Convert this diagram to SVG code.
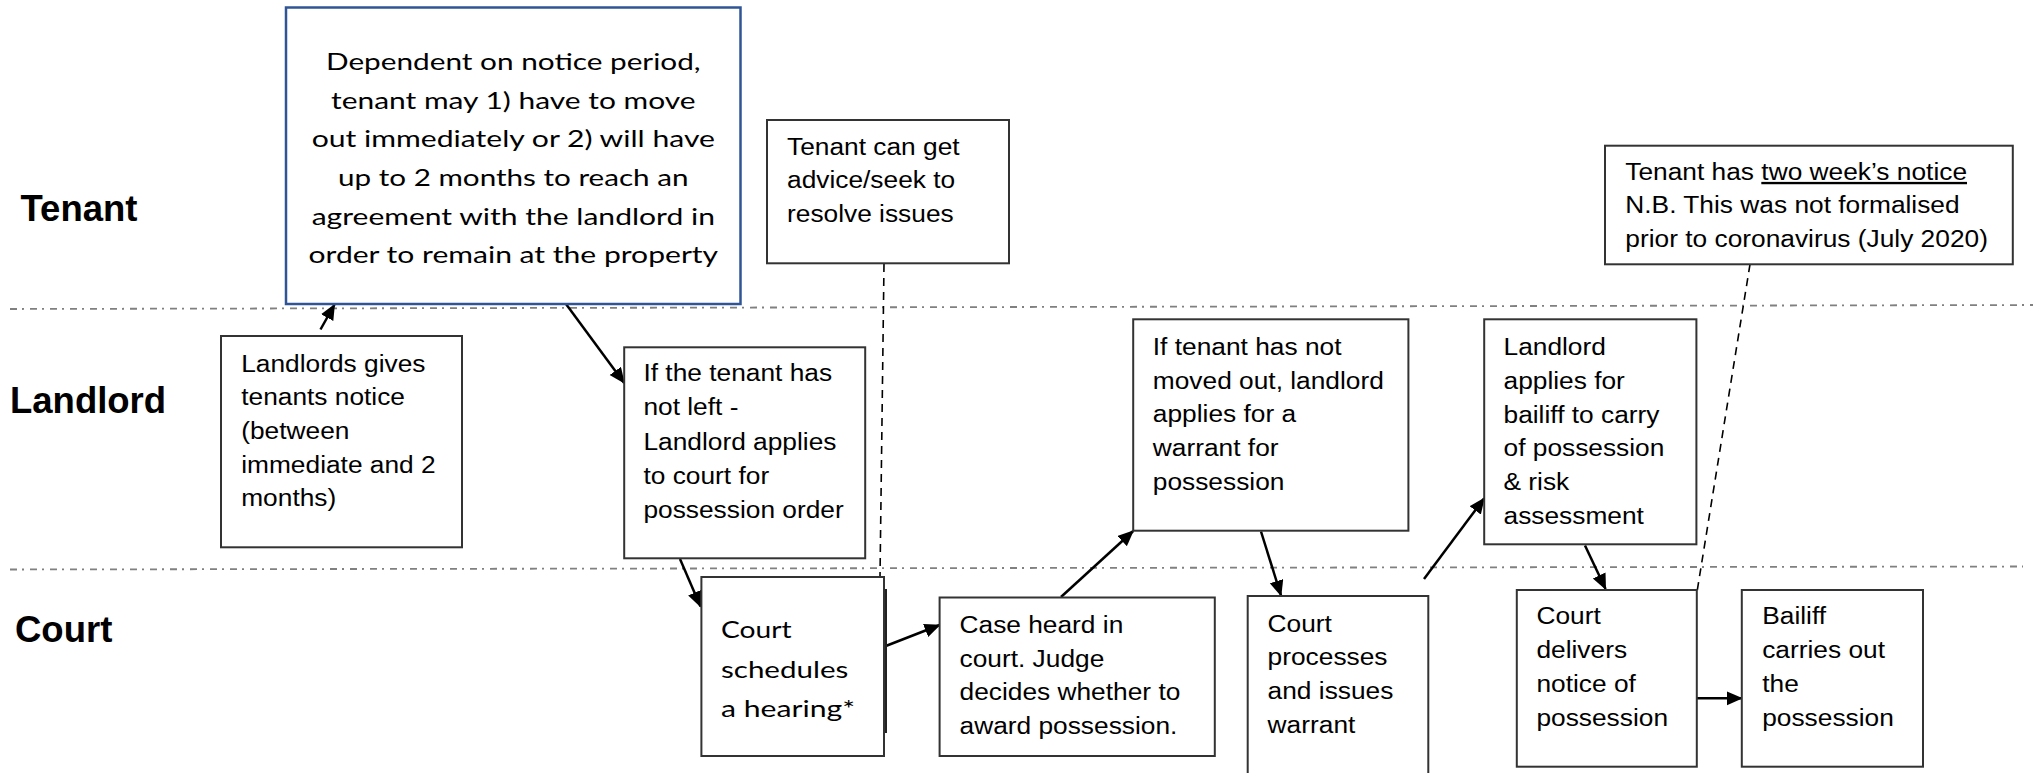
<svg xmlns="http://www.w3.org/2000/svg" width="2033" height="773" viewBox="0 0 2033 773">
<style>
.bg{fill:#fff}
.lane{stroke:#808080;stroke-width:1.8;stroke-dasharray:7 5 2 6;fill:none}
.box{fill:#fff;stroke:#333;stroke-width:2}
.bluebox{fill:#fff;stroke:#2f5597;stroke-width:2.5}
.t{font-family:"Liberation Sans",Arial,sans-serif;font-size:23.5px;fill:#000}
.c{font-family:Lato,"Open Sans",sans-serif;font-size:23.5px;fill:#000}
.lab{font-family:"Liberation Sans",Arial,sans-serif;font-size:36.5px;font-weight:bold;fill:#000}
.arr{stroke:#000;stroke-width:2.5;fill:none;marker-end:url(#ah)}
.dash{stroke:#000;stroke-width:1.6;stroke-dasharray:8 6;fill:none}
</style>
<defs>
<marker id="ah" markerUnits="userSpaceOnUse" markerWidth="17" markerHeight="15" refX="15" refY="7" orient="auto">
<path d="M0,0 L16,7 L0,14 z" fill="#000"/>
</marker>
</defs>
<rect class="bg" x="0" y="0" width="2033" height="773"/>

<g id="lanes">
<line class="lane" x1="10" y1="309" x2="2033" y2="305"/>
<line class="lane" x1="10" y1="569.5" x2="2023" y2="566.5"/>
<text class="lab" x="20.5" y="220.5">Tenant</text>
<text class="lab" x="10" y="413.3">Landlord</text>
<text class="lab" x="15" y="641.7">Court</text>
</g>

<g id="connectors">
<line class="dash" x1="884" y1="264" x2="880" y2="577"/>
<line class="dash" x1="1750" y1="264.3" x2="1697" y2="592"/>
<line class="arr" x1="320.5" y1="329.5" x2="334.5" y2="304.5"/>
<line class="arr" x1="566" y1="304" x2="624.2" y2="383"/>
<line class="arr" x1="680" y1="559" x2="700.5" y2="606.5"/>
<line class="arr" x1="884.5" y1="646.5" x2="939.6" y2="625"/>
<line class="arr" x1="1061" y1="597" x2="1133.2" y2="531"/>
<line class="arr" x1="1261" y1="531.5" x2="1281" y2="595.5"/>
<line class="arr" x1="1424" y1="579" x2="1484.2" y2="498.3"/>
<line class="arr" x1="1585" y1="545.5" x2="1605.6" y2="589"/>
<line class="arr" x1="1697" y1="698.3" x2="1741.8" y2="698.3"/>
</g>

<g id="notice-period">
<rect class="bluebox" x="286" y="7.5" width="454.5" height="296.5"/>
<text class="c" x="513.3" y="70" text-anchor="middle" textLength="374.6" lengthAdjust="spacingAndGlyphs">Dependent on notice period,</text>
<text class="c" x="513.3" y="108.7" text-anchor="middle" textLength="364.5" lengthAdjust="spacingAndGlyphs">tenant may 1) have to move</text>
<text class="c" x="513.3" y="147.3" text-anchor="middle" textLength="403.3" lengthAdjust="spacingAndGlyphs">out immediately or 2) will have</text>
<text class="c" x="513.3" y="186" text-anchor="middle" textLength="350.4" lengthAdjust="spacingAndGlyphs">up to 2 months to reach an</text>
<text class="c" x="513.3" y="224.7" text-anchor="middle" textLength="403.3" lengthAdjust="spacingAndGlyphs">agreement with the landlord in</text>
<text class="c" x="513.3" y="263.3" text-anchor="middle" textLength="409.6" lengthAdjust="spacingAndGlyphs">order to remain at the property</text>
</g>

<g id="tenant-advice">
<rect class="box" x="767" y="120" width="242" height="143.3"/>
<text class="t" transform="translate(787 154.5) scale(1.12 1)"><tspan x="0" y="0">Tenant can get</tspan><tspan x="0" y="33.6">advice/seek to</tspan><tspan x="0" y="67.2">resolve issues</tspan></text>
</g>

<g id="tenant-two-weeks">
<rect class="box" x="1605" y="145.7" width="407.8" height="118.6"/>
<text class="t" transform="translate(1625.3 180) scale(1.12 1)"><tspan x="0" y="0">Tenant has <tspan style="text-decoration:underline">two week’s notice</tspan></tspan><tspan x="0" y="33.4">N.B. This was not formalised</tspan><tspan x="0" y="66.8">prior to coronavirus (July 2020)</tspan></text>
</g>

<g id="landlord-notice">
<rect class="box" x="221" y="336" width="241" height="211.3"/>
<text class="t" transform="translate(241.2 371.5) scale(1.12 1)"><tspan x="0" y="0">Landlords gives</tspan><tspan x="0" y="33.75">tenants notice</tspan><tspan x="0" y="67.5">(between</tspan><tspan x="0" y="101.25">immediate and 2</tspan><tspan x="0" y="135">months)</tspan></text>
</g>

<g id="landlord-applies-court">
<rect class="box" x="624.2" y="347.3" width="241" height="211"/>
<text class="t" transform="translate(643.4 381) scale(1.12 1)"><tspan x="0" y="0">If the tenant has</tspan><tspan x="0" y="34.3">not left -</tspan><tspan x="0" y="68.6">Landlord applies</tspan><tspan x="0" y="102.9">to court for</tspan><tspan x="0" y="137.2">possession order</tspan></text>
</g>

<g id="court-schedules">
<rect class="box" x="701.4" y="577" width="182.6" height="179"/>
<line x1="886" y1="589" x2="886" y2="733" stroke="#222" stroke-width="2"/>
<text class="c" x="721" y="638.3" font-size="25" textLength="70.6" lengthAdjust="spacingAndGlyphs">Court</text>
<text class="c" x="721" y="677.5" font-size="25" textLength="127.3" lengthAdjust="spacingAndGlyphs">schedules</text>
<text class="c" x="721" y="716.7" font-size="25" textLength="134" lengthAdjust="spacingAndGlyphs">a hearing*</text>
</g>

<g id="case-heard">
<rect class="box" x="939.6" y="597.5" width="275.2" height="158.5"/>
<text class="t" transform="translate(959.5 632.7) scale(1.12 1)"><tspan x="0" y="0">Case heard in</tspan><tspan x="0" y="33.9">court. Judge</tspan><tspan x="0" y="67.8">decides whether to</tspan><tspan x="0" y="101.7">award possession.</tspan></text>
</g>

<g id="landlord-warrant">
<rect class="box" x="1133.2" y="319.3" width="275.2" height="211.4"/>
<text class="t" transform="translate(1152.8 355) scale(1.12 1)"><tspan x="0" y="0">If tenant has not</tspan><tspan x="0" y="33.75">moved out, landlord</tspan><tspan x="0" y="67.5">applies for a</tspan><tspan x="0" y="101.25">warrant for</tspan><tspan x="0" y="135">possession</tspan></text>
</g>

<g id="court-processes">
<rect class="box" x="1247.7" y="596" width="180.6" height="200"/>
<text class="t" transform="translate(1267.6 631.7) scale(1.12 1)"><tspan x="0" y="0">Court</tspan><tspan x="0" y="33.7">processes</tspan><tspan x="0" y="67.4">and issues</tspan><tspan x="0" y="101.1">warrant</tspan></text>
</g>

<g id="landlord-bailiff">
<rect class="box" x="1484.2" y="319.3" width="212.2" height="225"/>
<text class="t" transform="translate(1503.5 355) scale(1.12 1)"><tspan x="0" y="0">Landlord</tspan><tspan x="0" y="33.8">applies for</tspan><tspan x="0" y="67.6">bailiff to carry</tspan><tspan x="0" y="101.4">of possession</tspan><tspan x="0" y="135.2">&amp; risk</tspan><tspan x="0" y="169">assessment</tspan></text>
</g>

<g id="court-delivers">
<rect class="box" x="1516.8" y="590" width="180" height="176.7"/>
<text class="t" transform="translate(1536.4 624.3) scale(1.12 1)"><tspan x="0" y="0">Court</tspan><tspan x="0" y="33.9">delivers</tspan><tspan x="0" y="67.8">notice of</tspan><tspan x="0" y="101.7">possession</tspan></text>
</g>

<g id="bailiff">
<rect class="box" x="1741.8" y="590" width="181.2" height="176.7"/>
<text class="t" transform="translate(1762.2 624.3) scale(1.12 1)"><tspan x="0" y="0">Bailiff</tspan><tspan x="0" y="33.9">carries out</tspan><tspan x="0" y="67.8">the</tspan><tspan x="0" y="101.7">possession</tspan></text>
</g>
</svg>
